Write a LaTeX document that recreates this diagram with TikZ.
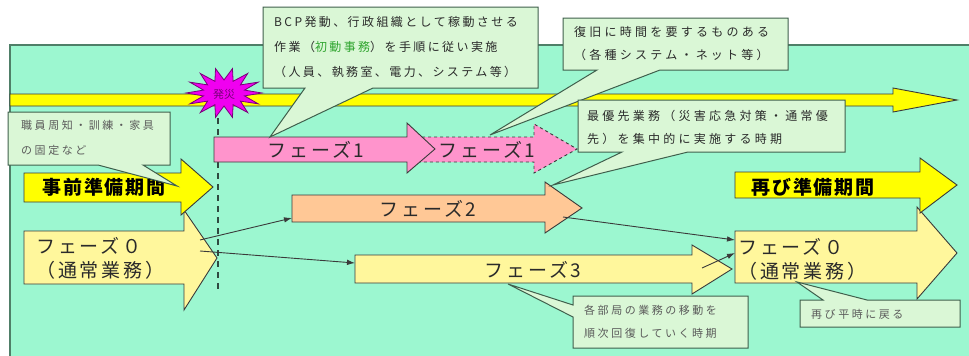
\documentclass[tikz,border=0pt]{standalone}
\usepackage{fontspec}
\usetikzlibrary{arrows.meta}
\setmainfont{Noto Sans CJK JP}
\newfontfamily\jpA[LetterSpace=20]{Noto Sans CJK JP}
\newfontfamily\jpB[LetterSpace=27]{Noto Sans CJK JP}
\newfontfamily\jpC[LetterSpace=23]{Noto Sans CJK JP}
\newfontfamily\jpP[LetterSpace=15]{Noto Sans CJK JP}
\newfontfamily\jpH[LetterSpace=10]{Noto Sans CJK JP}
\definecolor{mint}{HTML}{9CF7D0}
\definecolor{panelb}{HTML}{4F7F68}
\definecolor{yel}{HTML}{FFFF00}
\definecolor{lyel}{HTML}{FFF79C}
\definecolor{pinkc}{HTML}{FF94CC}
\definecolor{peach}{HTML}{FFC896}
\definecolor{callf}{HTML}{DAF7D6}
\definecolor{callb}{HTML}{3F5F4C}
\definecolor{arrowb}{HTML}{3A3A3A}
\definecolor{burstc}{HTML}{F000F0}
\definecolor{burstb}{HTML}{7A007A}
\definecolor{dashc}{HTML}{2E4A40}
\definecolor{initg}{HTML}{2FA52F}
\definecolor{txtd}{HTML}{2A2A2A}
\definecolor{txtl}{HTML}{5A5A5A}
\begin{document}
\begin{tikzpicture}[x=1pt,y=-1pt,
  panel/.style={fill=mint, draw=panelb, line width=1.2pt},
  blk/.style={draw=arrowb, line width=0.9pt, line join=miter},
  call/.style={fill=callf, draw=callb, line width=1pt, line join=miter},
  conn/.style={draw=arrowb, line width=0.9pt, -{Latex[length=8pt,width=5.5pt]}},
  ctop/.style={inner sep=0pt, align=left, text=txtd},
  clow/.style={inner sep=0pt, align=left, text=txtl},
  phtxt/.style={inner sep=0pt, text=txtd, font={\jpP\fontsize{19}{24}\selectfont}},
  bigb/.style={inner sep=0pt, text=black, font={\jpH\bfseries\fontsize{19}{24}\selectfont}}]
\fill[white] (0,0) rectangle (969,356);
\useasboundingbox (0,0) rectangle (969,356);
% panel
\draw[panel] (10,45) rectangle (990,380);
% timeline
\draw[blk, fill=yel] (10,94) -- (893,94) -- (893,88) -- (957,100) -- (893,112) -- (893,106) -- (10,106) -- cycle;
% burst
\draw[fill=burstc, draw=burstb, line width=0.8pt, line join=miter]
  plot[domain=0:27, samples=28] ({224+(mod(\x,2)==0 ? 38 : 21)*cos(\x*360/28)}, {93+(mod(\x,2)==0 ? 25 : 13)*sin(\x*360/28)}) -- cycle;
\node[inner sep=0pt, text=burstb, font={\fontsize{11}{12}\selectfont}] (hassai) at (224,94) {発災};
% phase 0 left and preparation
\draw[blk, fill=lyel] (24,231) -- (184,231) -- (184,210) -- (217,258) -- (184,310) -- (184,284) -- (24,284) -- cycle;
\node[inner sep=0pt, align=left, text=txtd, font={\jpP\fontsize{19}{24}\selectfont}, anchor=west] (ph0l) at (36,258) {フェーズ０\\（通常業務）};
\draw[blk, fill=yel] (24,173) -- (181,173) -- (181,159) -- (213,187) -- (181,215) -- (181,202) -- (24,202) -- cycle;
\node[bigb] (prep) at (104,187) {事前準備期間};
% dashed line
\coordinate (dtop) at (218,118);
\coordinate (dbot) at (218,290);
\draw[draw=dashc, line width=2.6pt, dash pattern=on 6pt off 5pt] (dtop) -- (dbot);
% phase 1 dashed
\draw[draw=arrowb, line width=0.9pt, dashed, fill=pinkc] (410,137) -- (534,137) -- (534,124) -- (577,149) -- (534,173) -- (534,162) -- (410,162) -- cycle;
\node[phtxt] (ph1b) at (487,150) {フェーズ1};
% phase 1 solid
\draw[blk, fill=pinkc] (214,137) -- (407,137) -- (407,123) -- (435,149) -- (407,173) -- (407,162) -- (214,162) -- cycle;
\node[phtxt] (ph1a) at (316,150) {フェーズ1};
% phase 2
\draw[blk, fill=peach] (292,195) -- (545,195) -- (545,182) -- (582,208) -- (545,233) -- (545,222) -- (292,222) -- cycle;
\node[phtxt] (ph2) at (428,209) {フェーズ2};
% phase 3
\draw[blk, fill=lyel] (355,255) -- (692,255) -- (692,245) -- (732,269) -- (692,294) -- (692,283) -- (355,283) -- cycle;
\node[phtxt] (ph3) at (533,270) {フェーズ3};
% phase 0 right
\draw[blk, fill=lyel] (735,231) -- (917,231) -- (917,207) -- (957,253) -- (917,299) -- (917,283) -- (735,283) -- cycle;
\node[inner sep=0pt, align=left, text=txtd, font={\jpP\fontsize{19}{24}\selectfont}, anchor=west] (ph0r) at (738,259) {フェーズ０\\（通常業務）};
% prepare again
\draw[blk, fill=yel] (735,172) -- (920,172) -- (920,158) -- (957,185) -- (920,213) -- (920,198) -- (735,198) -- cycle;
\node[bigb] (prep2) at (813,187) {再び準備期間};
% connectors
\coordinate (c0a) at (200,240);
\coordinate (c2in) at (292,218);
\coordinate (c0b) at (200,251);
\coordinate (c3in) at (355,263);
\coordinate (c2out) at (563,217);
\coordinate (c0rin1) at (735,240);
\coordinate (c3out) at (702,268);
\coordinate (c0rin2) at (735,253);
\draw[conn] (c0a) -- (c2in);
\draw[conn] (c0b) -- (c3in);
\draw[conn] (c2out) -- (c0rin1);
\draw[conn] (c3out) -- (c0rin2);
% callouts
\draw[call] (263,7) -- (538,7) -- (538,88) -- (373,88) -- (270,137) -- (305,88) -- (263,88) -- cycle;
\node[ctop, anchor=west, font={\jpA\fontsize{12}{25}\selectfont}] (bcp) at (274,47) {BCP発動、行政組織として稼動させる\\作業（\textcolor{initg}{初動事務}）を手順に従い実施\\（人員、執務室、電力、システム等）};
\draw[call] (563,18) -- (788,18) -- (788,70) -- (660,70) -- (490,135) -- (597,70) -- (563,70) -- cycle;
\node[ctop, anchor=west, font={\jpB\fontsize{12}{23}\selectfont}] (fukkyu) at (574,44) {復旧に時間を要するものある\\（各種システム・ネット等）};
\draw[call] (578,100) -- (845,100) -- (845,152) -- (688,152) -- (553,185) -- (622,152) -- (578,152) -- cycle;
\node[ctop, anchor=west, font={\jpB\fontsize{12}{23}\selectfont}] (saiyu) at (587,127) {最優先業務（災害応急対策・通常優\\先）を集中的に実施する時期};
\draw[call] (8,112) -- (170,112) -- (170,165) -- (143,165) -- (177,186) -- (98,165) -- (8,165) -- cycle;
\node[clow, anchor=west, font={\jpC\fontsize{11}{25}\selectfont}] (shokuin) at (21,138) {職員周知・訓練・家具\\の固定など};
\draw[call] (573,296) -- (748,296) -- (748,348) -- (573,348) -- (573,317) -- (508,284) -- (573,305) -- cycle;
\node[clow, anchor=west, font={\jpC\fontsize{11}{23}\selectfont}] (kakubu) at (584,322) {各部局の業務の移動を\\順次回復していく時期};
\draw[call] (800,300) -- (823,300) -- (797,282) -- (867,300) -- (960,300) -- (960,327) -- (800,327) -- cycle;
\node[clow, anchor=west, font={\jpC\fontsize{11}{23}\selectfont}] (heiji) at (811,314) {再び平時に戻る};
\end{tikzpicture}
\end{document}
